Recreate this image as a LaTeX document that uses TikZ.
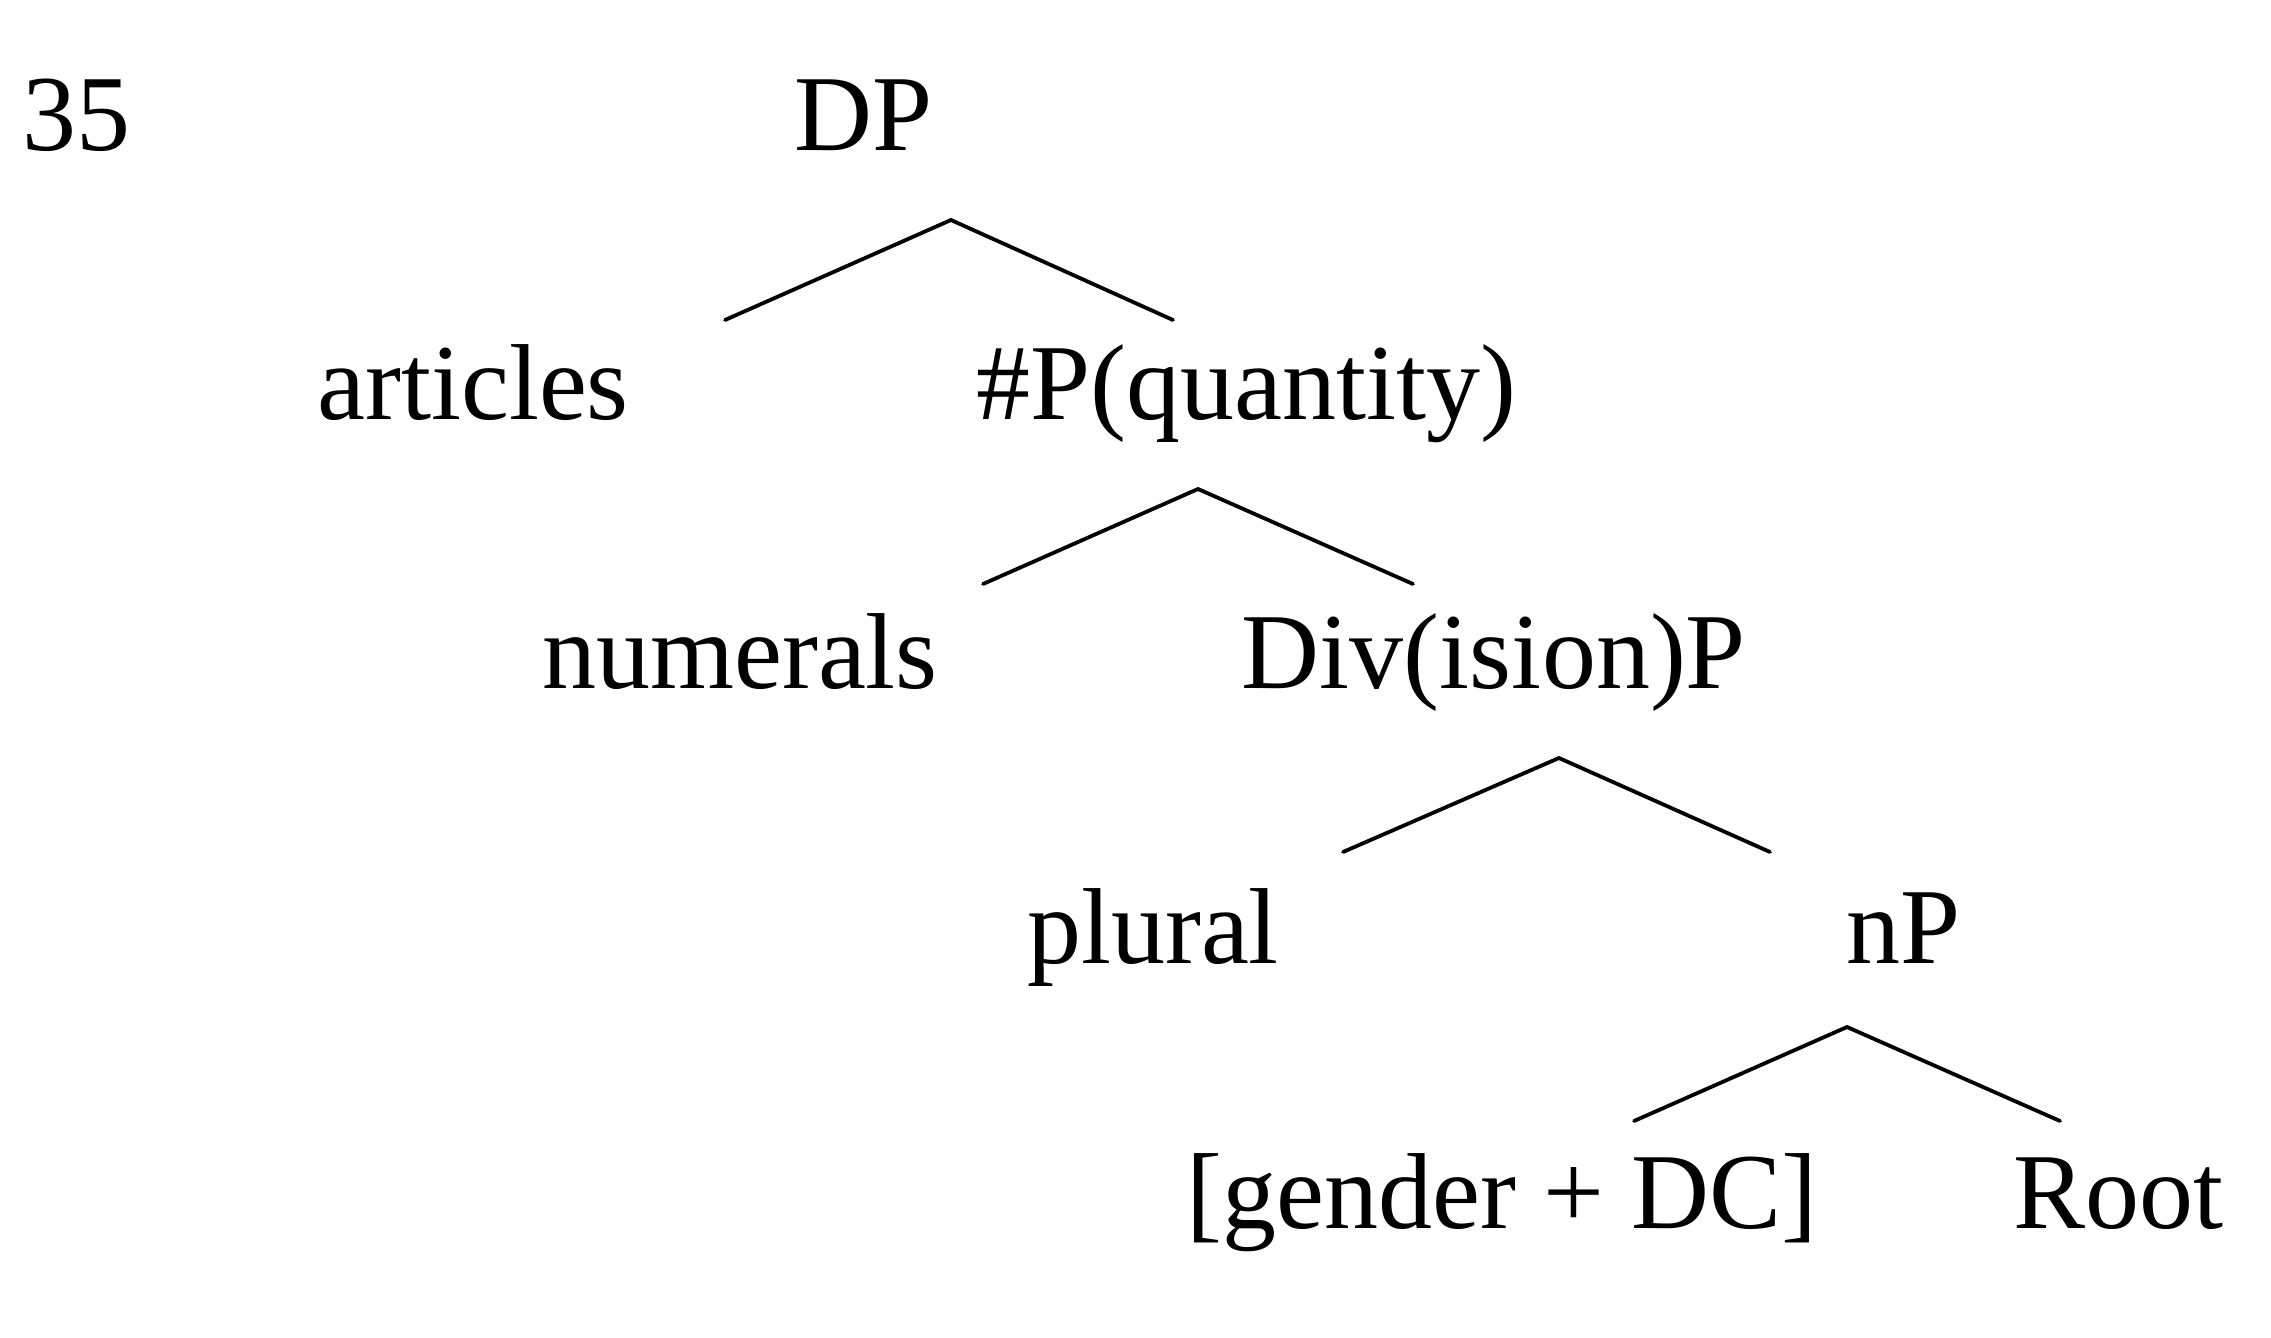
\documentclass[tikz,border=0pt]{standalone}
\usepackage{fontspec}
\setmainfont{Liberation Serif}
\begin{document}
\begin{tikzpicture}[x=0.5pt,y=-0.5pt,
  lbl/.style={anchor=base, inner sep=0pt, font=\fontsize{54}{64}\selectfont},
  branch/.style={line width=1.9pt, line cap=round, line join=miter}]
\fill[white] (0,0) rectangle (2271,1338);
\useasboundingbox (0,0) rectangle (2271,1338);
% labels
\node[lbl] (ex)   at (77,150)   {35};
\node[lbl] (dp)   at (864,150)  {DP};
\node[lbl] (art)  at (473,419)  {articles};
\node[lbl] (qp)   at (1246,419) {\#P(quantity)};
\node[lbl] (num)  at (740,688)  {numerals};
\node[lbl] (div)  at (1494,688) {Div(ision)P};
\node[lbl] (pl)   at (1153,963) {plural};
\node[lbl] (np)   at (1904,963) {nP};
\node[lbl] (gen)  at (1502,1228) {[gender + DC]};
\node[lbl] (root) at (2118,1228) {Root};
% branch points
\coordinate (dpT) at (951,220);  \coordinate (artT) at (725,320);  \coordinate (qpT) at (1173,320);
\coordinate (qpB) at (1198,489); \coordinate (numT) at (983,584);  \coordinate (divT) at (1413,584);
\coordinate (divB) at (1559,758);\coordinate (plT) at (1343,852);  \coordinate (npT) at (1770,852);
\coordinate (npB) at (1847,1027);\coordinate (genT) at (1634,1121);\coordinate (rootT) at (2060,1121);
\draw[branch] (artT) -- (dpT) -- (qpT);
\draw[branch] (numT) -- (qpB) -- (divT);
\draw[branch] (plT) -- (divB) -- (npT);
\draw[branch] (genT) -- (npB) -- (rootT);
\end{tikzpicture}
\end{document}
